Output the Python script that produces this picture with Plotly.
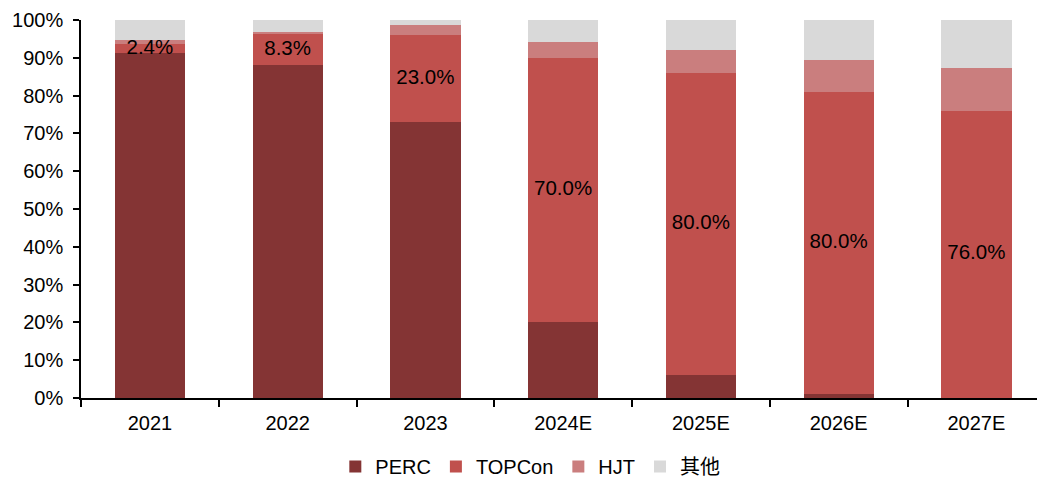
import plotly.graph_objects as go

# Cell technology market share by year (%)
years = ["2021", "2022", "2023", "2024E", "2025E", "2026E", "2027E"]
perc = [91.2, 88.0, 73.0, 20.0, 6.0, 1.0, 0.0]
topcon = [2.4, 8.3, 23.0, 70.0, 80.0, 80.0, 76.0]
hjt = [1.0, 0.5, 2.8, 4.2, 6.0, 8.4, 11.3]
other = [5.4, 3.2, 1.2, 5.8, 8.0, 10.6, 12.7]
topcon_labels = ["2.4%", "8.3%", "23.0%", "70.0%", "80.0%", "80.0%", "76.0%"]

series = [
    ("PERC", perc, "#843434"),
    ("TOPCon", topcon, "#C0504D"),
    ("HJT", hjt, "#CA7E7E"),
    ("其他", other, "#D9D9D9"),
]

FONT = "Liberation Sans, Arial, Noto Sans CJK SC, sans-serif"

fig = go.Figure()
for name, vals, color in series:
    fig.add_trace(go.Bar(
        x=years, y=vals, name=name,
        marker=dict(color=color, line=dict(width=0)),
        hoverinfo="skip",
    ))

# TOPCon share labels centred in the TOPCon segment
label_y = [p + t / 2 for p, t in zip(perc, topcon)]
fig.add_trace(go.Scatter(
    x=years, y=label_y, mode="text", text=topcon_labels,
    textfont=dict(family=FONT, size=20.5, color="#000000"),
    showlegend=False, hoverinfo="skip",
))

fig.update_layout(
    barmode="stack",
    bargap=0.49,
    width=1037, height=481,
    margin=dict(l=81, r=0, t=20, b=83, autoexpand=False),
    paper_bgcolor="white", plot_bgcolor="white",
    font=dict(family=FONT, size=20, color="#000000"),
    showlegend=True,
    legend=dict(
        orientation="h", x=0.47, xanchor="center",
        yref="container", y=0.03, yanchor="middle",
        font=dict(family=FONT, size=20),
        traceorder="normal", itemwidth=30, bgcolor="rgba(0,0,0,0)",
    ),
    xaxis=dict(
        type="category", range=[-0.5, 6.44],
        showline=True, linecolor="#000000", linewidth=1.5,
        ticks="outside", tickson="boundaries", ticklen=7, tickcolor="#000000", tickwidth=1.5,
        ticklabelstandoff=6,
        showgrid=False, zeroline=False,
        tickfont=dict(size=20),
    ),
    yaxis=dict(
        range=[0, 100], dtick=10, ticksuffix="%",
        showline=True, linecolor="#000000", linewidth=1.5,
        ticks="outside", ticklen=6, tickcolor="#000000", tickwidth=1.5,
        ticklabelstandoff=6,
        showgrid=False, zeroline=False,
        tickfont=dict(size=20),
    ),
)

fig.write_html("out.html")
